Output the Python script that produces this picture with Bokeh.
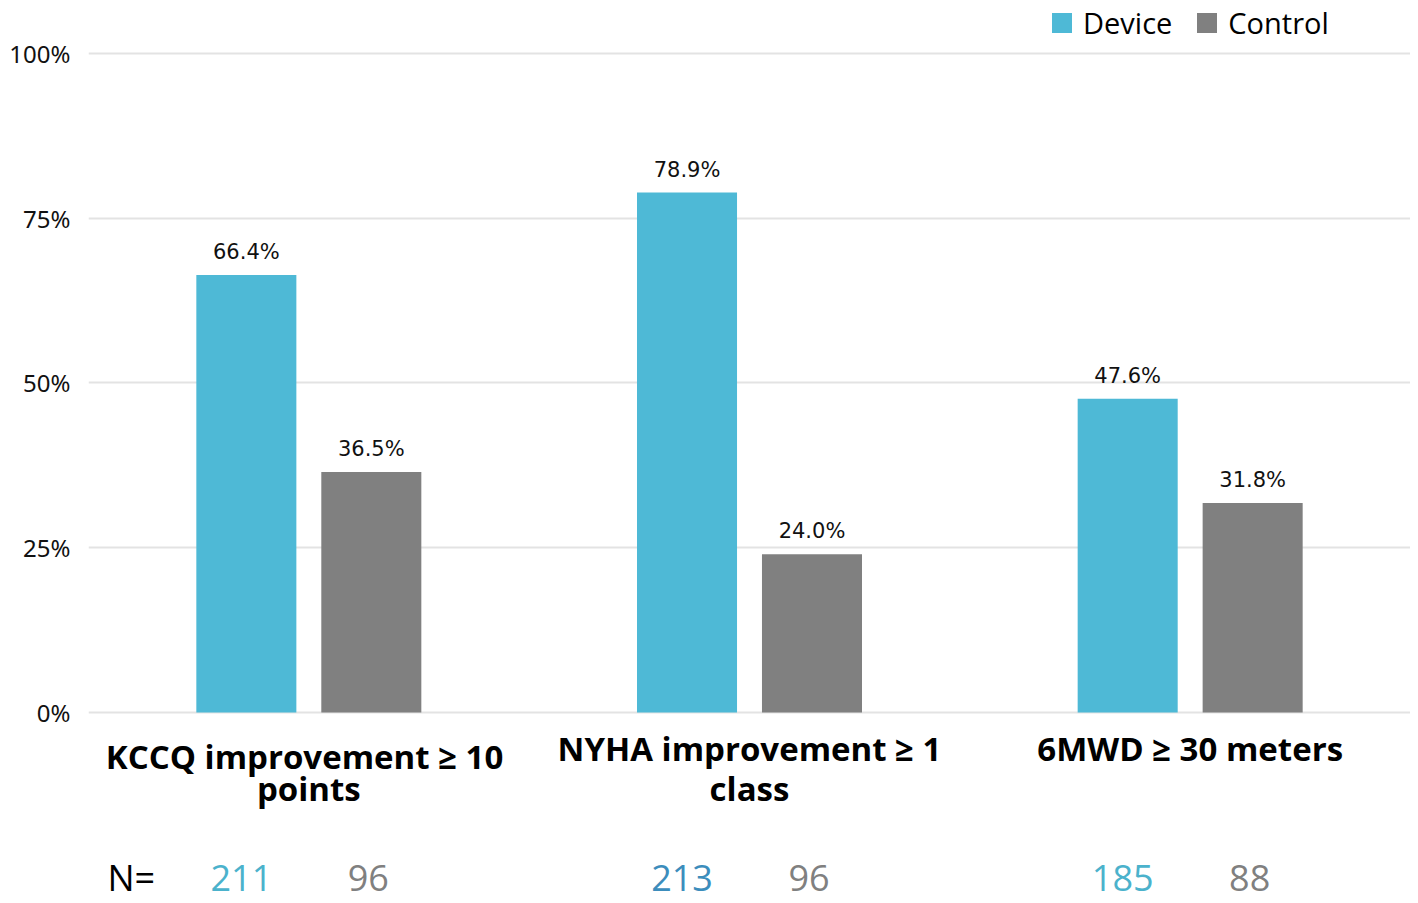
from bokeh.plotting import figure
from bokeh.models import ColumnDataSource, Legend, LegendItem, FixedTicker
from bokeh.core.properties import value
from bokeh.embed import file_html
from bokeh.resources import INLINE

# ---- data ----
categories = ["KCCQ", "NYHA", "6MWD"]
cat_line1 = ["KCCQ improvement  \u2265 10", "NYHA improvement \u2265 1", "6MWD \u2265 30 meters"]
cat_line2 = ["points", "class", ""]
device_pct = [66.4, 78.9, 47.6]
control_pct = [36.5, 24.0, 31.8]
device_n = ["211", "213", "185"]
control_n = ["96", "96", "88"]
series_names = ["Device", "Control"]
y_ticks = [0, 25, 50, 75, 100]
y_tick_labels = ["0%", "25%", "50%", "75%", "100%"]

# ---- style ----
DEVICE_COLOR = "#4EB9D6"
CONTROL_COLOR = "#808080"
device_n_colors = ["#4BB2CC", "#3C8DBC", "#4BB2CC"]
line1_dy = [8, 0, 0]  # first category label sits slightly lower

centers = [i + 0.5 for i in range(len(categories))]
off = 0.1418
bw = 0.227
dev_x = [c - off for c in centers]
ctl_x = [c + off for c in centers]

p = figure(width=1410, height=903, x_range=(0, 3), y_range=(-28.98, 108.04),
           output_backend="svg", toolbar_location=None, title=None,
           min_border_left=88, min_border_right=0, min_border_top=0, min_border_bottom=0)
p.outline_line_color = None
p.xaxis.visible = False
p.xgrid.visible = False
p.ygrid.grid_line_color = "#E3E3E3"
p.ygrid.grid_line_width = 2
p.yaxis.ticker = FixedTicker(ticks=y_ticks)
p.yaxis.major_label_overrides = {t: l for t, l in zip(y_ticks, y_tick_labels)}
p.yaxis.axis_line_color = None
p.yaxis.major_tick_line_color = None
p.yaxis.minor_tick_line_color = None
p.yaxis.major_label_standoff = 12
p.yaxis.major_label_text_font = "Noto Sans"
p.yaxis.major_label_text_font_size = "24px"
p.yaxis.major_label_text_color = "#111111"

src_d = ColumnDataSource(dict(x=dev_x, top=device_pct, lab=[f"{v:.1f}%" for v in device_pct],
                              n=device_n, nc=device_n_colors))
src_c = ColumnDataSource(dict(x=ctl_x, top=control_pct, lab=[f"{v:.1f}%" for v in control_pct],
                              n=control_n))

r_d = p.vbar(x="x", top="top", bottom=0, width=bw, source=src_d, fill_color=DEVICE_COLOR, line_color=None)
r_c = p.vbar(x="x", top="top", bottom=0, width=bw, source=src_c, fill_color=CONTROL_COLOR, line_color=None)

for src in (src_d, src_c):
    p.text(x="x", y="top", text="lab", source=src, text_align="center", text_baseline="alphabetic",
           y_offset=-23, text_font=value("DejaVu Sans"), text_font_size="21px", text_color="#111111")

# category labels
src_cat = ColumnDataSource(dict(x=centers, y=[0] * 3, l1=cat_line1, l2=cat_line2, dy=[36 + d for d in line1_dy]))
p.text(x="x", y="y", text="l1", y_offset="dy", source=src_cat, text_align="center",
       text_baseline="alphabetic", text_font=value("Open Sans"), text_font_style="bold",
       text_font_size="33px", text_color="#000000")
p.text(x="x", y="y", text="l2", y_offset=76, source=src_cat, text_align="center",
       text_baseline="alphabetic", text_font=value("Open Sans"), text_font_style="bold",
       text_font_size="33px", text_color="#000000")

# N row
p.text(x=[0.043], y=[0], text=["N="], y_offset=165, text_align="left", text_baseline="alphabetic",
       text_font=value("Open Sans"), text_font_size="36px", text_color="#000000")
p.text(x="x", y=0, text="n", source=src_d, x_offset=-5, y_offset=165, text_align="center",
       text_baseline="alphabetic", text_font=value("Open Sans"), text_font_size="36px", text_color="nc")
p.text(x="x", y=0, text="n", source=src_c, x_offset=-3, y_offset=165, text_align="center",
       text_baseline="alphabetic", text_font=value("Open Sans"), text_font_size="36px", text_color="#808080")

legend = Legend(items=[LegendItem(label=series_names[0], renderers=[r_d]),
                       LegendItem(label=series_names[1], renderers=[r_c])],
                location=(961, 861), orientation="horizontal",
                glyph_width=25, glyph_height=25, label_standoff=9, spacing=22,
                padding=0, margin=0, border_line_color=None, background_fill_alpha=0,
                label_text_font="Open Sans", label_text_font_size="29px", label_text_color="#000000")
p.add_layout(legend)

open("out.html", "w").write(file_html(p, INLINE))
